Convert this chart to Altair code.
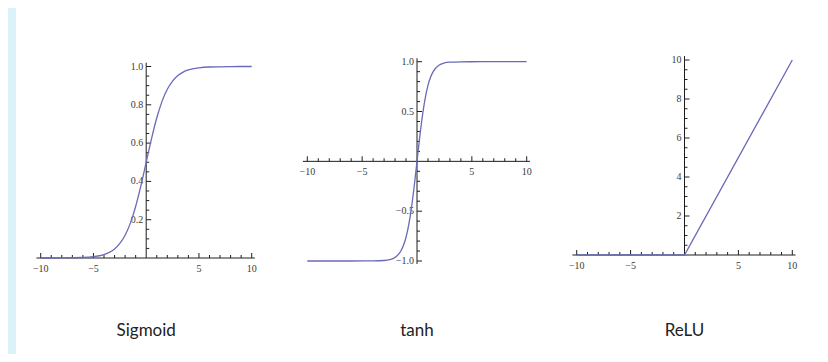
import altair as alt
import pandas as pd

# ---------------- data ----------------
panel_titles = ["Sigmoid", "tanh", "ReLU"]

sig_x = [-10, -8, -6, -5, -4, -3.5, -3, -2.5, -2, -1.5, -1, -0.5, 0,
         0.5, 1, 1.5, 2, 2.5, 3, 3.5, 4, 5, 6, 8, 10]
sig_y = [0.0000, 0.0003, 0.0025, 0.0067, 0.018, 0.029, 0.047, 0.076, 0.119,
         0.182, 0.269, 0.378, 0.5, 0.622, 0.731, 0.818, 0.881, 0.924, 0.953,
         0.971, 0.982, 0.993, 0.9975, 0.9997, 1.0]

tanh_x = [-10, -6, -4, -3, -2.5, -2, -1.5, -1.25, -1, -0.75, -0.5, -0.25, 0,
          0.25, 0.5, 0.75, 1, 1.25, 1.5, 2, 2.5, 3, 4, 6, 10]
tanh_y = [-1.0, -1.0, -0.999, -0.995, -0.987, -0.964, -0.905, -0.848, -0.762,
          -0.635, -0.462, -0.245, 0.0, 0.245, 0.462, 0.635, 0.762, 0.848,
          0.905, 0.964, 0.987, 0.995, 0.999, 1.0, 1.0]

relu_x = [-10, 0, 10]
relu_y = [0, 0, 10]

# axis ticks and labels
x_major = [-10, -5, 5, 10]
x_major_labels = ["\u221210", "\u22125", "5", "10"]
x_minor = [-9, -8, -7, -6, -4, -3, -2, -1, 1, 2, 3, 4, 6, 7, 8, 9]

sig_y_major = [0.2, 0.4, 0.6, 0.8, 1.0]
sig_y_labels = ["0.2", "0.4", "0.6", "0.8", "1.0"]
sig_y_minor = [0.05, 0.1, 0.15, 0.25, 0.3, 0.35, 0.45, 0.5, 0.55, 0.65, 0.7,
               0.75, 0.85, 0.9, 0.95]

tanh_y_major = [-1.0, -0.5, 0.5, 1.0]
tanh_y_labels = ["\u22121.0", "\u22120.5", "0.5", "1.0"]
tanh_y_minor = [-0.9, -0.8, -0.7, -0.6, -0.4, -0.3, -0.2, -0.1,
                0.1, 0.2, 0.3, 0.4, 0.6, 0.7, 0.8, 0.9]

relu_y_major = [2, 4, 6, 8, 10]
relu_y_labels = ["2", "4", "6", "8", "10"]
relu_y_minor = [0.5, 1, 1.5, 2.5, 3, 3.5, 4.5, 5, 5.5, 6.5, 7, 7.5,
                8.5, 9, 9.5]

# axis line extents (data units)
x_axis_extent = [-10.4, 10.3]
sig_y_extent = [0, 1.02]
tanh_y_extent = [-1.03, 1.035]
relu_y_extent = [0, 10.2]

# ---------------- styling ----------------
CURVE = "#6a6ab8"
AXIS = "#1e1e1e"
LABEL = "#3a3a3a"
SERIF = "Liberation Serif"
TITLE_FONT = "Liberation Sans Narrow, Lato, sans-serif"


def sc(domain, rng):
    return alt.Scale(domain=domain, range=rng, nice=False, zero=False)


def panel(title, cx, cy, xs, ys, ymaj, ylab, ymin, yext, interp):
    layers = []
    # x axis line
    layers.append(
        alt.Chart(pd.DataFrame({"a": [x_axis_extent[0]], "b": [x_axis_extent[1]]}))
        .mark_rule(color=AXIS, strokeWidth=1)
        .encode(x=alt.X("a:Q", scale=xs, axis=None), x2="b:Q",
                y=alt.Y(datum=0, scale=ys, axis=None))
    )
    # y axis line
    layers.append(
        alt.Chart(pd.DataFrame({"a": [yext[0]], "b": [yext[1]]}))
        .mark_rule(color=AXIS, strokeWidth=1)
        .encode(y=alt.Y("a:Q", scale=ys, axis=None), y2="b:Q",
                x=alt.X(datum=0, scale=xs, axis=None))
    )
    # x ticks
    for vals, ln in ((x_major, 5), (x_minor, 3)):
        layers.append(
            alt.Chart(pd.DataFrame({"v": vals}))
            .mark_tick(orient="vertical", size=ln, thickness=1, color=AXIS,
                       opacity=1, yOffset=-ln / 2)
            .encode(x=alt.X("v:Q", scale=xs, axis=None),
                    y=alt.Y(datum=0, scale=ys, axis=None))
        )
    # y ticks
    for vals, ln in ((ymaj, 5), (ymin, 3)):
        layers.append(
            alt.Chart(pd.DataFrame({"v": vals}))
            .mark_tick(orient="horizontal", size=ln, thickness=1, color=AXIS,
                       opacity=1, xOffset=ln / 2)
            .encode(y=alt.Y("v:Q", scale=ys, axis=None),
                    x=alt.X(datum=0, scale=xs, axis=None))
        )
    # x labels
    layers.append(
        alt.Chart(pd.DataFrame({"v": x_major, "t": x_major_labels}))
        .mark_text(font=SERIF, fontSize=10, color=LABEL, baseline="middle",
                   align="center", dy=11)
        .encode(x=alt.X("v:Q", scale=xs, axis=None),
                y=alt.Y(datum=0, scale=ys, axis=None), text="t:N")
    )
    # y labels
    layers.append(
        alt.Chart(pd.DataFrame({"v": ymaj, "t": ylab}))
        .mark_text(font=SERIF, fontSize=10, color=LABEL, baseline="middle",
                   align="right", dx=-3)
        .encode(y=alt.Y("v:Q", scale=ys, axis=None),
                x=alt.X(datum=0, scale=xs, axis=None), text="t:N")
    )
    # curve
    layers.append(
        alt.Chart(pd.DataFrame({"x": cx, "y": cy}))
        .mark_line(color=CURVE, strokeWidth=1.3, interpolate=interp)
        .encode(x=alt.X("x:Q", scale=xs, axis=None),
                y=alt.Y("y:Q", scale=ys, axis=None))
    )
    # panel title
    layers.append(
        alt.Chart(pd.DataFrame({"t": [title]}))
        .mark_text(font=TITLE_FONT, fontSize=17, color="#222222",
                   baseline="alphabetic", align="center")
        .encode(x=alt.X(datum=0, scale=xs, axis=None), y=alt.value(328),
                text="t:N")
    )
    return layers


SIG_X = sc([-10, 10], [24.7, 235.7])
SIG_Y = sc([0, 1], [250, 58.5])
TANH_X = sc([-10, 10], [291.3, 510.7])
TANH_Y = sc([-1, 1], [253, 53.7])
RELU_X = sc([-10, 10], [560.7, 776.3])
RELU_Y = sc([0, 10], [247, 52])

layers = []
layers += panel(panel_titles[0], sig_x, sig_y, SIG_X, SIG_Y,
                sig_y_major, sig_y_labels, sig_y_minor, sig_y_extent, "monotone")
layers += panel(panel_titles[1], tanh_x, tanh_y, TANH_X, TANH_Y,
                tanh_y_major, tanh_y_labels, tanh_y_minor, tanh_y_extent, "monotone")
layers += panel(panel_titles[2], relu_x, relu_y, RELU_X, RELU_Y,
                relu_y_major, relu_y_labels, relu_y_minor, relu_y_extent, "linear")

chart = (
    alt.layer(*layers)
    .resolve_scale(x="independent", y="independent")
    .properties(width=804, height=346, background="#dbf3f8",
                padding={"left": 8, "top": 0, "right": 0, "bottom": 0},
                autosize=alt.AutoSizeParams(type="none"))
    .configure_view(fill="white", strokeWidth=0)
)

chart.save("out.html", embed_options={"renderer": "svg", "actions": False})
